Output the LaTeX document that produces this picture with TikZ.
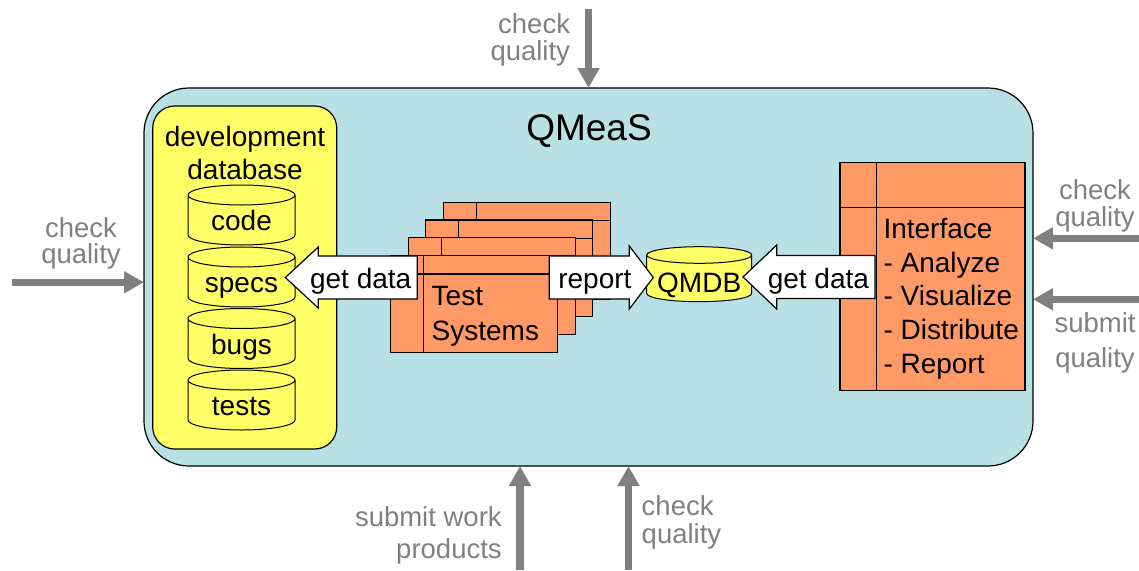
\documentclass[tikz,border=0pt]{standalone}
\usepackage{fontspec}
\setmainfont{Liberation Sans}
\usetikzlibrary{arrows.meta,calc}
\pgfdeclarelayer{bg}
\pgfdeclarelayer{mid}
\pgfsetlayers{bg,mid,main}
\definecolor{qblue}{RGB}{185,224,228}
\definecolor{qyellow}{RGB}{255,255,102}
\definecolor{qorange}{RGB}{255,153,102}
\definecolor{qgray}{RGB}{128,128,128}
\newcommand\mycyl[2]{%
  \path[cyl] let \p1=(#1.north west), \p2=(#1.south east), \n1={(\x2-\x1)/2} in
    (\x1,\y1-#2) -- (\x1,\y2+#2) arc[start angle=180,end angle=360,x radius=\n1,y radius=#2]
    -- (\x2,\y1-#2) arc[start angle=0,end angle=180,x radius=\n1,y radius=#2] -- cycle
    (\x1,\y1-#2) arc[start angle=180,end angle=360,x radius=\n1,y radius=#2];}
\begin{document}
\begin{tikzpicture}[x=1pt,y=1pt,
  btxt/.style={font=\fontsize{28}{33.7}\selectfont, inner sep=0pt, outer sep=0pt},
  gtxt/.style={font=\fontsize{27.5}{27}\selectfont, text=qgray, inner sep=0pt, outer sep=0pt},
  garrow/.style={draw=qgray, line width=7.5pt, -{Triangle[width=21pt,length=20pt]}},
  dbnode/.style={btxt, minimum width=107pt, minimum height=60pt, text height=31pt, text depth=0pt},
  cyl/.style={draw=black, fill=qyellow, line width=1pt},
  blk/.style={draw=black, fill=white, line width=1.2pt, line join=miter},
  arrtxt/.style={btxt, minimum height=43pt, text height=22pt, text depth=0pt},
  win/.style 2 args={draw=black, fill=qorange, line width=1.2pt, inner sep=0pt, outer sep=0pt, anchor=north west,
    path picture={
      \draw[line width=1.2pt] ([xshift=#1]path picture bounding box.north west) -- ([xshift=#1]path picture bounding box.south west);
      \draw[line width=1.2pt] ([yshift=-#2]path picture bounding box.north west) -- ([yshift=-#2]path picture bounding box.north east);}},
  tsbox/.style={win={33pt}{18.3pt}, minimum width=167pt, minimum height=96.7pt}
]
\useasboundingbox (0,0) rectangle (1139,-570);

\begin{pgfonlayer}{bg}
  \node[draw=black, fill=qblue, line width=1.2pt, rounded corners=45pt, minimum width=889pt, minimum height=378pt, inner sep=0pt, outer sep=0pt] (qmeas) at (588.5,-277) {};
  \node[draw=black, fill=qyellow, line width=1.2pt, rounded corners=22pt, minimum width=184pt, minimum height=343pt, inner sep=0pt, outer sep=0pt] (devbox) at (244.7,-277.5) {};
\end{pgfonlayer}

% texts
\node[font=\fontsize{37}{40}\selectfont, inner sep=0pt] (title) at (589,-131) {QMeaS};
\node[btxt, align=center] (devtitle) at (245,-153) {development\\database};
\node[dbnode] (code) at (241.5,-215) {code};
\node[dbnode] (specs) at (241.5,-277) {specs};
\node[dbnode] (bugs) at (241.5,-338.5) {bugs};
\node[dbnode] (tests) at (241.5,-400) {tests};
\node[btxt, minimum width=105pt, minimum height=55pt, text height=36pt, text depth=0pt] (qmdb) at (699.2,-274.2) {QMDB};
\node[btxt, align=left, anchor=west] (tstext) at (431.7,-316) {Test\\[1.3pt]Systems};
\node[btxt, align=left, anchor=west] (iftext) at (883.5,-298.5) {Interface\\- Analyze\\- Visualize\\- Distribute\\- Report};
\node[arrtxt, anchor=east, inner xsep=6pt] (gdA) at (417.3,-277.5) {get data};
\node[arrtxt, anchor=west, inner xsep=9pt] (rep) at (549.3,-277.5) {report};
\node[arrtxt, anchor=east, inner xsep=6pt] (gdB) at (875,-277) {get data};

\begin{pgfonlayer}{mid}
  \node[tsbox] (ts4) at (443.3,-202.3) {};
  \node[tsbox] (ts3) at (425.7,-220) {};
  \node[tsbox] (ts2) at (408.3,-237.7) {};
  \node[tsbox] (ts1) at (390.7,-255.7) {};
  \node[win={36.7pt}{45pt}, minimum width=185pt, minimum height=228pt] (iface) at (840,-162.7) {};
  \mycyl{code}{10pt}
  \mycyl{specs}{10pt}
  \mycyl{bugs}{10pt}
  \mycyl{tests}{10pt}
  \mycyl{qmdb}{8.3pt}
  % get data (left)
  \path[blk] (gdA.north east) -- ([xshift=-99pt]gdA.north east) -- ++(0,9) -- ([xshift=-132pt]gdA.east)
    -- ([xshift=-99pt,yshift=-9pt]gdA.south east) -- ([xshift=-99pt]gdA.south east) -- (gdA.south east) -- cycle;
  % report
  \path[blk] (rep.north west) -- ([xshift=80pt]rep.north west) -- ++(0,10) -- ([xshift=104pt]rep.west)
    -- ([xshift=80pt,yshift=-10pt]rep.south west) -- ([xshift=80pt]rep.south west) -- (rep.south west) -- cycle;
  % get data (right)
  \path[blk] (gdB.north east) -- ([xshift=-98.3pt]gdB.north east) -- ++(0,10.5) -- ([xshift=-132pt]gdB.east)
    -- ([xshift=-98.3pt,yshift=-10.5pt]gdB.south east) -- ([xshift=-98.3pt]gdB.south east) -- (gdB.south east) -- cycle;
\end{pgfonlayer}

% grey inputs
\coordinate (topA) at (588.5,-9);
\coordinate (leftA) at (11.7,-282.3);
\coordinate (rightA) at (1139,-238.3);
\coordinate (rightB) at (1139,-299.3);
\coordinate (botA) at (520,-570);
\coordinate (botB) at (628.5,-570);
\draw[garrow] (topA) -- (topA |- qmeas.north);
\draw[garrow] (leftA) -- (leftA -| qmeas.west);
\draw[garrow] (rightA) -- (rightA -| qmeas.east);
\draw[garrow] (rightB) -- (rightB -| qmeas.east);
\draw[garrow] (botA) -- (botA |- qmeas.south);
\draw[garrow] (botB) -- (botB |- qmeas.south);

\node[gtxt, align=right, anchor=east] (tq) at (570,-39.5) {check\\quality};
\node[gtxt, align=center] (lq) at (81,-243) {check\\[-1pt]quality};
\node[gtxt, align=center] (rq1) at (1095,-206) {check\\quality};
\node[gtxt, align=center] (rq2) at (1095,-342.4) {submit\\[8pt]quality};
\node[gtxt, align=right, anchor=east] (bq1) at (501.7,-535.2) {submit work\\[5pt]products};
\node[gtxt, align=left, anchor=west] (bq2) at (641.7,-522.2) {check\\[1pt]quality};
\end{tikzpicture}
\end{document}
